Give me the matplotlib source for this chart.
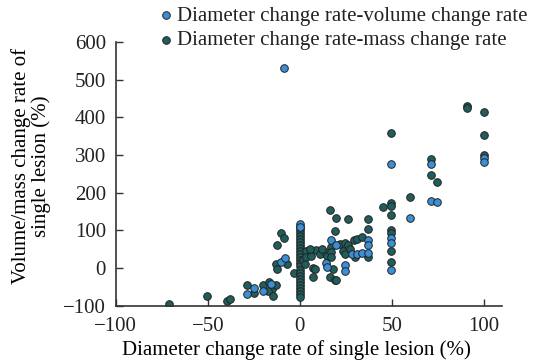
import matplotlib
matplotlib.use("Agg")
import matplotlib.pyplot as plt

# diameter change rate vs volume change rate (blue)
vol_x = [-28.6, -25.0, -19.9, -15.4, -10.0, -7.8, -8.5, 0, 0, 14.1, 14.5, 16.7, 19.6,
         24.5, 24.5, 28.1, 30.8, 33.5, 37.1, 37.1, 37.1, 49.5, 49.5, 49.5, 49.5, 59.8,
         71.0, 71.0, 74.5, 100, 100]
vol_y = [-70, -53, -61, -42, 17, 26, 530, 117, 108, 13, 3, 75, 62,
         7, -8, 38, 38, 40, 73, 60, 39, 277, 80, 67, -4, 134,
         275, 179, 174, 293, 282]

# diameter change rate vs mass change rate (teal)
mass_x = [-71.2, -50.2, -39.8, -38.0, -28.6, -25.0, -19.9, -16.8, -15.0, -17.2, -14.5,
          -12.7, -12.3, -10.3, -8.7, -12.7, -12.3, -7.2, -3.3,
          0, 0, 0, 0, 0, 0, 0, 0, 0, 0, 0, 0, 0, 0, 0, 0, 0, 0, 0, 0, 0, 0, 0, 0,
          1.8, 2.7, 3.6, 6.3, 9.0, 3.6, 6.3, 10.9, 13.6, 14.5, 6.9, 7.2, 8.2, 11.8,
          16.3, 19.0, 16.7, 16.7, 16.7, 18.1, 21.7, 24.5, 26.3, 23.5, 24.5, 27.2, 29.9,
          29.3, 30.8, 33.5, 19.0, 16.3, 19.9, 26.3, 37.1, 37.1, 37.1, 45.3, 5.4, 19.9,
          49.5, 49.5, 49.5, 49.5, 49.5, 49.5, 49.5, 49.5,
          59.8, 71.0, 71.0, 74.5, 90.6, 90.6, 100, 100, 100]
mass_y = [-96, -75, -88, -83, -46, -67, -46, -37, -55, -62, -75,
          -46, 62, 93, 80, 11, -2, 11, -12,
          110, 100, 92, 84, 76, 68, 60, 52, 44, 36, 28, 20, 12, 4, -4, -12, -20, -28,
          -36, -44, -52, -60, -68, -76,
          20, 11, 46, 46, 48, 29, 33, 38, 42, 33, 1, -24, -2, 50,
          -24, -33, 55, 42, 29, -2, 64, 66, 62, 46, 36, 51, 29,
          75, 77, 82, 99, 155, 134, 130, 130, 104, 29, 162, 50, -33,
          357, 172, 165, 141, 102, 92, 46, 17,
          189, 288, 246, 228, 429, 425, 413, 354, 299]

x_ticks = [-100, -50, 0, 50, 100]
y_ticks = [-100, 0, 100, 200, 300, 400, 500, 600]

plt.rcParams['font.family'] = ['Liberation Serif', 'DejaVu Serif']
plt.rcParams['font.size'] = 15
plt.rcParams['text.color'] = '#222222'

fig = plt.figure(figsize=(5.34, 3.64), dpi=100)
ax = fig.add_axes([0.2167, 0.1602, 0.7241, 0.7247])

ax.scatter(vol_x, vol_y, s=30, color='#3a8fd6', edgecolors='#222222', linewidths=0.7,
           label='Diameter change rate-volume change rate', zorder=3)
ax.scatter(mass_x, mass_y, s=30, color='#1f5e5c', edgecolors='#222222', linewidths=0.7,
           label='Diameter change rate-mass change rate', zorder=2)

ax.set_xlim(-100, 110)
ax.set_ylim(-100, 600)
ax.set_xticks(x_ticks)
ax.set_yticks(y_ticks)
ax.tick_params(direction='in', length=5, width=1, color='#333333',
               labelcolor='#222222')
ax.tick_params(axis='x', pad=8)
ax.tick_params(axis='y', pad=7)

for s in ['top', 'right']:
    ax.spines[s].set_visible(False)
for s in ['left', 'bottom']:
    ax.spines[s].set_color('#333333')
    ax.spines[s].set_linewidth(1.2)

ax.set_xlabel('Diameter change rate of single lesion (%)')
ax.xaxis.set_label_coords(0.4675, -0.13)
ax.set_ylabel('Volume/mass change rate of\nsingle lesion (%)', multialignment='center',
              linespacing=1.0)
ax.yaxis.set_label_coords(-0.168, 0.53)

fig.legend(loc='upper left', bbox_to_anchor=(153 / 534, 1 - 4 / 364), frameon=False,
           handletextpad=0.05, labelspacing=0.25, borderaxespad=0, handlelength=1.0,
           borderpad=0.1)

fig.savefig('out.png', dpi=100)
